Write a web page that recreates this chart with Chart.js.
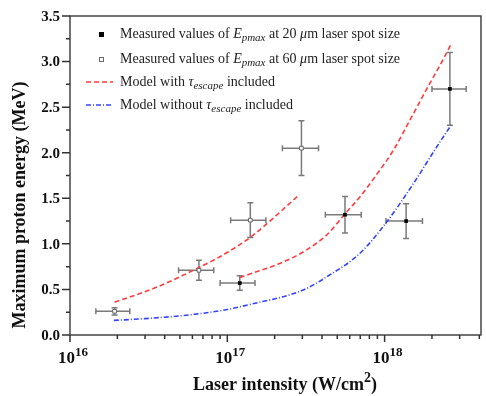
<!DOCTYPE html>
<html>
<head>
<meta charset="utf-8">
<script src="https://cdn.jsdelivr.net/npm/chart.js@4/dist/chart.umd.min.js"></script>
<style>
html, body { margin: 0; padding: 0; background: #fff; }
</style>
</head>
<body>
<canvas id="myChart" width="486" height="396"></canvas>
<script>
// measured Epmax, 20 um spot (filled squares)
var spot20X = [1.2e17, 5.6e17, 1.37e18, 2.6e18];
var spot20Y = [0.57, 1.32, 1.25, 2.70];
var spot20XLo = [9.0e16, 4.2e17, 1.02e18, 2.0e18];
var spot20XHi = [1.5e17, 7.1e17, 1.74e18, 3.3e18];
var spot20YErr = [0.08, 0.20, 0.19, 0.40];

// measured Epmax, 60 um spot (open squares)
var spot60X = [1.92e16, 6.6e16, 1.4e17, 2.96e17];
var spot60Y = [0.26, 0.71, 1.26, 2.05];
var spot60XLo = [1.46e16, 4.9e16, 1.05e17, 2.24e17];
var spot60XHi = [2.4e16, 8.2e16, 1.76e17, 3.8e17];
var spot60YErr = [0.04, 0.11, 0.19, 0.30];

// model with tau_escape (two red dashed branches)
var model60X = [1.92e16, 3.5e16, 6.6e16, 1.01e17, 1.42e17, 2.88e17];
var model60Y = [0.36, 0.52, 0.74, 0.91, 1.08, 1.54];
var model20X = [1.2e17, 2.4e17, 3.3e17, 4.3e17, 5.6e17, 7e17, 8.9e17, 1.14e18, 1.44e18, 1.84e18, 2.35e18, 2.66e18];
var model20Y = [0.63, 0.82, 0.95, 1.10, 1.33, 1.52, 1.76, 2.03, 2.35, 2.69, 3.02, 3.20];

// model without tau_escape (blue dash-dot)
var noEscX = [1.9e16, 3e16, 5.7e16, 1e17, 1.35e17, 3e17, 4.3e17, 7e17, 1.03e18, 1.55e18, 2.03e18, 2.64e18];
var noEscY = [0.16, 0.18, 0.22, 0.28, 0.33, 0.49, 0.64, 0.90, 1.24, 1.68, 2.00, 2.30];

var yTicks = ['0.0', '0.5', '1.0', '1.5', '2.0', '2.5', '3.0', '3.5'];
var xDecades = [16, 17, 18];

var SERIF = '"Liberation Serif", "Times New Roman", serif';

function pts(xs, ys) {
    var out = [];
    for (var i = 0; i < xs.length; i++) out.push({x: xs[i], y: ys[i]});
    return out;
}

function richText(ctx, x, y, parts, size) {
    for (var i = 0; i < parts.length; i++) {
        var p = parts[i];
        var fs = p.small ? Math.round(size * 0.75) : size;
        ctx.font = (p.italic ? 'italic ' : '') + (p.bold ? 'bold ' : '') + fs + 'px ' + SERIF;
        var dy = 0;
        if (p.sub) dy = size * 0.3;
        if (p.sup) dy = -size * 0.42;
        ctx.fillText(p.t, x, y + dy);
        x += ctx.measureText(p.t).width;
    }
    return x;
}

function textWidth(ctx, parts, size) {
    var w = 0;
    for (var i = 0; i < parts.length; i++) {
        var p = parts[i];
        var fs = p.small ? Math.round(size * 0.75) : size;
        ctx.font = (p.italic ? 'italic ' : '') + (p.bold ? 'bold ' : '') + fs + 'px ' + SERIF;
        w += ctx.measureText(p.t).width;
    }
    return w;
}

var errorBars = {
    id: 'errorBars',
    beforeDatasetsDraw: function(chart) {
        var ctx = chart.ctx, xs = chart.scales.x, ys = chart.scales.y;
        ctx.save();
        ctx.strokeStyle = '#7a7a7a';
        ctx.lineWidth = 1.5;
        function draw(X, Y, lo, hi, ye) {
            for (var i = 0; i < X.length; i++) {
                var px = xs.getPixelForValue(X[i]), py = ys.getPixelForValue(Y[i]);
                var x1 = xs.getPixelForValue(lo[i]), x2 = xs.getPixelForValue(hi[i]);
                var y1 = ys.getPixelForValue(Y[i] - ye[i]), y2 = ys.getPixelForValue(Y[i] + ye[i]);
                ctx.beginPath();
                ctx.moveTo(x1, py); ctx.lineTo(x2, py);
                ctx.moveTo(x1, py - 3); ctx.lineTo(x1, py + 3);
                ctx.moveTo(x2, py - 3); ctx.lineTo(x2, py + 3);
                ctx.moveTo(px, y1); ctx.lineTo(px, y2);
                ctx.moveTo(px - 3, y1); ctx.lineTo(px + 3, y1);
                ctx.moveTo(px - 3, y2); ctx.lineTo(px + 3, y2);
                ctx.stroke();
            }
        }
        draw(spot20X, spot20Y, spot20XLo, spot20XHi, spot20YErr);
        draw(spot60X, spot60Y, spot60XLo, spot60XHi, spot60YErr);
        ctx.restore();
    }
};

var axesDecor = {
    id: 'axesDecor',
    afterDraw: function(chart) {
        var ctx = chart.ctx, a = chart.chartArea;
        var xs = chart.scales.x, ys = chart.scales.y;
        ctx.save();
        // frame
        ctx.strokeStyle = '#444';
        ctx.lineWidth = 1.5;
        ctx.strokeRect(a.left, a.top, a.right - a.left, a.bottom - a.top);

        // y ticks
        ctx.strokeStyle = '#333';
        ctx.beginPath();
        for (var i = 0; i < yTicks.length; i++) {
            var v = parseFloat(yTicks[i]);
            var py = ys.getPixelForValue(v);
            ctx.moveTo(a.left - 8, py); ctx.lineTo(a.left, py);
            if (i < yTicks.length - 1) {
                var pm = ys.getPixelForValue(v + 0.25);
                ctx.moveTo(a.left - 4, pm); ctx.lineTo(a.left, pm);
            }
        }
        // x ticks
        for (var d = 0; d < xDecades.length; d++) {
            for (var m = 1; m < 10; m++) {
                var val = m * Math.pow(10, xDecades[d]);
                if (val > xs.max) break;
                var px = xs.getPixelForValue(val);
                ctx.moveTo(px, a.bottom);
                ctx.lineTo(px, a.bottom + (m == 1 ? 7 : 4));
            }
        }
        ctx.stroke();

        ctx.fillStyle = '#111';
        // y tick labels
        ctx.font = 'bold 15px ' + SERIF;
        ctx.textAlign = 'right';
        ctx.textBaseline = 'middle';
        for (var i = 0; i < yTicks.length; i++) {
            ctx.fillText(yTicks[i], a.left - 10, ys.getPixelForValue(parseFloat(yTicks[i])) + 1);
        }

        // x tick labels 10^n
        ctx.textAlign = 'left';
        ctx.textBaseline = 'alphabetic';
        for (var d = 0; d < xDecades.length; d++) {
            var parts = [{t: '10', bold: true}, {t: String(xDecades[d]), bold: true, small: true, sup: true}];
            var w = textWidth(ctx, parts, 17);
            var px = xs.getPixelForValue(Math.pow(10, xDecades[d]));
            richText(ctx, px - w / 2 + 3, 363, parts, 17);
        }

        // x title
        var xt = [{t: 'Laser intensity (W/cm', bold: true}, {t: '2', bold: true, small: true, sup: true}, {t: ')', bold: true}];
        var xw = textWidth(ctx, xt, 18);
        richText(ctx, 285 - xw / 2, 390, xt, 18);

        // y title
        ctx.save();
        ctx.translate(25, 205);
        ctx.rotate(-Math.PI / 2);
        ctx.font = 'bold 18px ' + SERIF;
        ctx.textAlign = 'center';
        ctx.fillText('Maximum proton energy (MeV)', 0, 0);
        ctx.restore();

        // legend
        ctx.textAlign = 'left';
        ctx.textBaseline = 'middle';
        ctx.fillStyle = '#222';
        richText(ctx, 120, 34, [{t: 'Measured values of '}, {t: 'E', italic: true}, {t: 'pmax', italic: true, small: true, sub: true}, {t: ' at 20 '}, {t: '\u03bc', italic: true}, {t: 'm laser spot size'}], 14);
        richText(ctx, 120, 59, [{t: 'Measured values of '}, {t: 'E', italic: true}, {t: 'pmax', italic: true, small: true, sub: true}, {t: ' at 60 '}, {t: '\u03bc', italic: true}, {t: 'm laser spot size'}], 14);
        richText(ctx, 120, 82, [{t: 'Model with '}, {t: '\u03c4', italic: true}, {t: 'escape', italic: true, small: true, sub: true}, {t: ' included'}], 14);
        richText(ctx, 120, 105, [{t: 'Model without '}, {t: '\u03c4', italic: true}, {t: 'escape', italic: true, small: true, sub: true}, {t: ' included'}], 14);

        ctx.fillStyle = '#000';
        ctx.fillRect(99, 32, 5, 5);
        ctx.strokeStyle = '#666';
        ctx.lineWidth = 1;
        ctx.fillStyle = '#fff';
        ctx.fillRect(99, 57, 5, 5);
        ctx.strokeRect(99.5, 57.5, 4, 4);

        ctx.lineWidth = 1.5;
        ctx.strokeStyle = '#ff3b3b';
        ctx.setLineDash([5, 3]);
        ctx.beginPath(); ctx.moveTo(86, 82); ctx.lineTo(113, 82); ctx.stroke();
        ctx.strokeStyle = '#3344ff';
        ctx.setLineDash([5, 2, 1, 2]);
        ctx.beginPath(); ctx.moveTo(86, 105); ctx.lineTo(113, 105); ctx.stroke();
        ctx.restore();
    }
};

var ctx = document.getElementById('myChart').getContext('2d');
var chart = new Chart(ctx, {
    type: 'scatter',
    data: {
        datasets: [{
            label: 'Measured values of Epmax at 20 um laser spot size',
            data: pts(spot20X, spot20Y),
            pointStyle: 'rect',
            pointRadius: 2.6,
            backgroundColor: '#000',
            borderColor: '#000',
            borderWidth: 0,
            showLine: false,
            order: 0
        }, {
            label: 'Measured values of Epmax at 60 um laser spot size',
            data: pts(spot60X, spot60Y),
            pointStyle: 'rect',
            pointRadius: 2.6,
            backgroundColor: '#fff',
            borderColor: '#666',
            borderWidth: 1,
            showLine: false,
            order: 0
        }, {
            label: 'Model with tau_escape included',
            data: pts(model60X, model60Y),
            showLine: true,
            pointRadius: 0,
            borderColor: '#ff3b3b',
            borderWidth: 1.6,
            borderDash: [5, 3],
            cubicInterpolationMode: 'monotone',
            order: 1
        }, {
            label: 'Model with tau_escape included (20 um)',
            data: pts(model20X, model20Y),
            showLine: true,
            pointRadius: 0,
            borderColor: '#ff3b3b',
            borderWidth: 1.6,
            borderDash: [5, 3],
            cubicInterpolationMode: 'monotone',
            order: 1
        }, {
            label: 'Model without tau_escape included',
            data: pts(noEscX, noEscY),
            showLine: true,
            pointRadius: 0,
            borderColor: '#3344ff',
            borderWidth: 1.6,
            borderDash: [5, 2, 1, 2],
            cubicInterpolationMode: 'monotone',
            order: 1
        }]
    },
    options: {
        responsive: false,
        devicePixelRatio: 1,
        animation: false,
        layout: { padding: { left: 70, top: 16, right: 1, bottom: 61 } },
        plugins: { legend: { display: false }, tooltip: { enabled: false } },
        scales: {
            x: { type: 'logarithmic', min: 1e16, max: 4.1e18, display: false },
            y: { type: 'linear', min: 0, max: 3.5, display: false }
        }
    },
    plugins: [errorBars, axesDecor]
});
</script>
</body>
</html>
